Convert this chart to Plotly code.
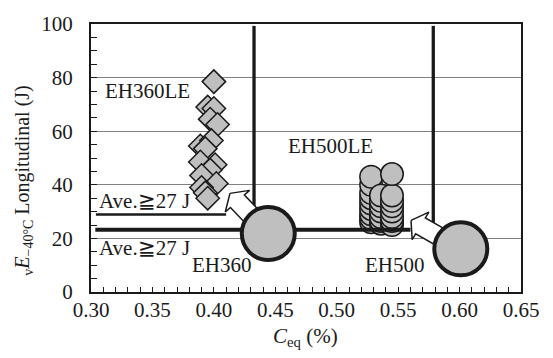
import math
import plotly.graph_objects as go

# ---- data ----
# EH360LE (diamonds)
le360_ceq = [0.400, 0.395, 0.400, 0.397, 0.403, 0.389, 0.398, 0.393, 0.389,
             0.401, 0.397, 0.390, 0.402, 0.390, 0.393, 0.395]
le360_e = [78.5, 69.0, 68.5, 64.5, 62.5, 54.5, 56.5, 53.5, 48.5,
           47.5, 45.5, 43.5, 40.5, 39.0, 37.0, 35.0]

# EH500LE (small circles), three columns of Ceq
le500_ceq = ([0.528] * 9) + ([0.536] * 7) + ([0.545] * 8)
le500_e = ([26.0, 27.5, 29.0, 31.0, 33.0, 35.0, 37.0, 40.0, 43.0]
           + [25.5, 26.5, 28.0, 30.0, 32.0, 34.0, 36.0]
           + [25.0, 26.5, 28.0, 30.0, 32.0, 34.0, 36.0, 44.0])

# conventional grades (large circles)
base_names = ["EH360", "EH500"]
base_ceq = [0.4443, 0.601]
base_e = [21.8, 16.1]

# arrow tips (from each conventional grade towards its LE counterpart)
arrow_tip_ceq = [0.4131, 0.5605]
arrow_tip_e = [36.8, 26.7]

# reference lines
req_low_e = 23.2            # thick horizontal line
req_low_ceq = [0.3035, 0.560]
req_up_e = 28.9             # upper horizontal line
req_up_ceq = [0.304, 0.410]
ceq_limits = [0.4327, 0.5786]   # vertical lines
ceq_limit_e = [23.2, 99.3]

# ---- layout geometry ----
W, H = 553, 358
ML, MR, MT, MB = 91, 32, 15, 66
X0, X1 = 0.30, 0.65
Y0, Y1 = 0.0, 100.0
PW, PH = W - ML - MR, H - MT - MB
sx = PW / (X1 - X0)   # px per unit Ceq
sy = PH / (Y1 - Y0)   # px per J

GRAY = "#bfbfbf"
INK = "#1a1a1a"
FONT = "Liberation Serif"


def to_px(x, y):
    return (x - X0) * sx, (y - Y0) * sy  # y up


def to_data(px, py):
    return px / sx + X0, py / sy + Y0


def block_arrow(x_from, y_from, x_to, y_to, head_len=11, head_half=16.5, shaft_half=9.5):
    sxp, syp = to_px(x_from, y_from)
    txp, typ = to_px(x_to, y_to)
    dx, dy = txp - sxp, typ - syp
    L = math.hypot(dx, dy)
    ux, uy = dx / L, dy / L
    nx, ny = -uy, ux
    bx, by = txp - ux * head_len, typ - uy * head_len
    pts = [
        (txp, typ),
        (bx + nx * head_half, by + ny * head_half),
        (bx + nx * shaft_half, by + ny * shaft_half),
        (sxp + nx * shaft_half, syp + ny * shaft_half),
        (sxp - nx * shaft_half, syp - ny * shaft_half),
        (bx - nx * shaft_half, by - ny * shaft_half),
        (bx - nx * head_half, by - ny * head_half),
        (txp, typ),
    ]
    xs, ys = zip(*[to_data(p, q) for p, q in pts])
    return list(xs), list(ys)


fig = go.Figure()

# LE steels
fig.add_trace(go.Scatter(
    x=le360_ceq, y=le360_e, mode="markers",
    marker=dict(symbol="diamond", size=18, color=GRAY, line=dict(color=INK, width=1.5)),
    cliponaxis=False, hoverinfo="skip"))
fig.add_trace(go.Scatter(
    x=le500_ceq, y=le500_e, mode="markers",
    marker=dict(symbol="circle", size=22.5, color=GRAY, line=dict(color=INK, width=1.5)),
    cliponaxis=False, hoverinfo="skip"))

# requirement lines
fig.add_trace(go.Scatter(x=req_up_ceq, y=[req_up_e] * 2, mode="lines",
                         line=dict(color=INK, width=2.5), hoverinfo="skip"))
fig.add_trace(go.Scatter(x=req_low_ceq, y=[req_low_e] * 2, mode="lines",
                         line=dict(color=INK, width=4), hoverinfo="skip"))
for c in ceq_limits:
    fig.add_trace(go.Scatter(x=[c, c], y=ceq_limit_e, mode="lines",
                             line=dict(color=INK, width=3.3), hoverinfo="skip"))

# block arrows
for i in range(len(base_ceq)):
    ax, ay = block_arrow(base_ceq[i], base_e[i], arrow_tip_ceq[i], arrow_tip_e[i])
    fig.add_trace(go.Scatter(x=ax, y=ay, mode="lines", fill="toself", fillcolor="white",
                             line=dict(color=INK, width=1.5), hoverinfo="skip"))

# conventional grades
fig.add_trace(go.Scatter(
    x=base_ceq, y=base_e, mode="markers",
    marker=dict(symbol="circle", size=53, color=GRAY, line=dict(color=INK, width=4)),
    cliponaxis=False, hoverinfo="skip"))

# text labels
labels = [
    ("EH360LE", 0.3098, 74.9),
    ("EH500LE", 0.4587, 54.3),
    ("Ave.≧27 J", 0.3049, 34.0),
    ("Ave.≧27 J", 0.3049, 16.6),
    ("EH360", 0.3806, 10.2),
    ("EH500", 0.5214, 10.2),
]
for t, x, y in labels:
    fig.add_annotation(x=x, y=y, text=t, showarrow=False, xanchor="left", yanchor="middle",
                       font=dict(family=FONT, size=21, color=INK))

# axis titles
fig.add_annotation(xref="paper", yref="paper", x=(24 - ML) / PW, y=(292 - 177) / PH,
                   text="<sub>v</sub><i>E</i><sub>−40°C</sub> Longitudinal (J)",
                   textangle=-90, showarrow=False, xanchor="center", yanchor="middle",
                   font=dict(family=FONT, size=20, color=INK))
fig.add_annotation(xref="paper", yref="paper", x=(305 - ML) / PW, y=(292 - 339) / PH,
                   text="<i>C</i><sub>eq</sub> (%)", showarrow=False,
                   xanchor="center", yanchor="middle",
                   font=dict(family=FONT, size=21, color=INK))

fig.update_layout(
    width=W, height=H, margin=dict(l=ML, r=MR, t=MT, b=MB),
    paper_bgcolor="white", plot_bgcolor="white", showlegend=False,
    font=dict(family=FONT, size=21, color=INK),
)
fig.update_xaxes(
    range=[X0, X1], dtick=0.05, tick0=0.30, tickformat=".2f",
    showline=True, mirror=True, linecolor=INK, linewidth=2,
    ticks="inside", ticklen=5, tickcolor=INK, tickwidth=1,
    minor=dict(dtick=0.01, ticks="inside", ticklen=5, tickcolor=INK, showgrid=False),
    showgrid=False, zeroline=False, ticklabelstandoff=-2,
    tickfont=dict(family=FONT, size=21, color=INK),
)
fig.update_yaxes(
    range=[Y0, Y1], dtick=20,
    showline=True, mirror=True, linecolor=INK, linewidth=2,
    ticks="inside", ticklen=6, tickcolor=INK, tickwidth=1,
    minor=dict(dtick=5, ticks="inside", ticklen=6, tickcolor=INK, showgrid=False),
    showgrid=True, gridcolor="#808080", gridwidth=1, zeroline=False, ticklabelstandoff=12,
    tickfont=dict(family=FONT, size=21, color=INK),
)

fig.write_html("out.html")
